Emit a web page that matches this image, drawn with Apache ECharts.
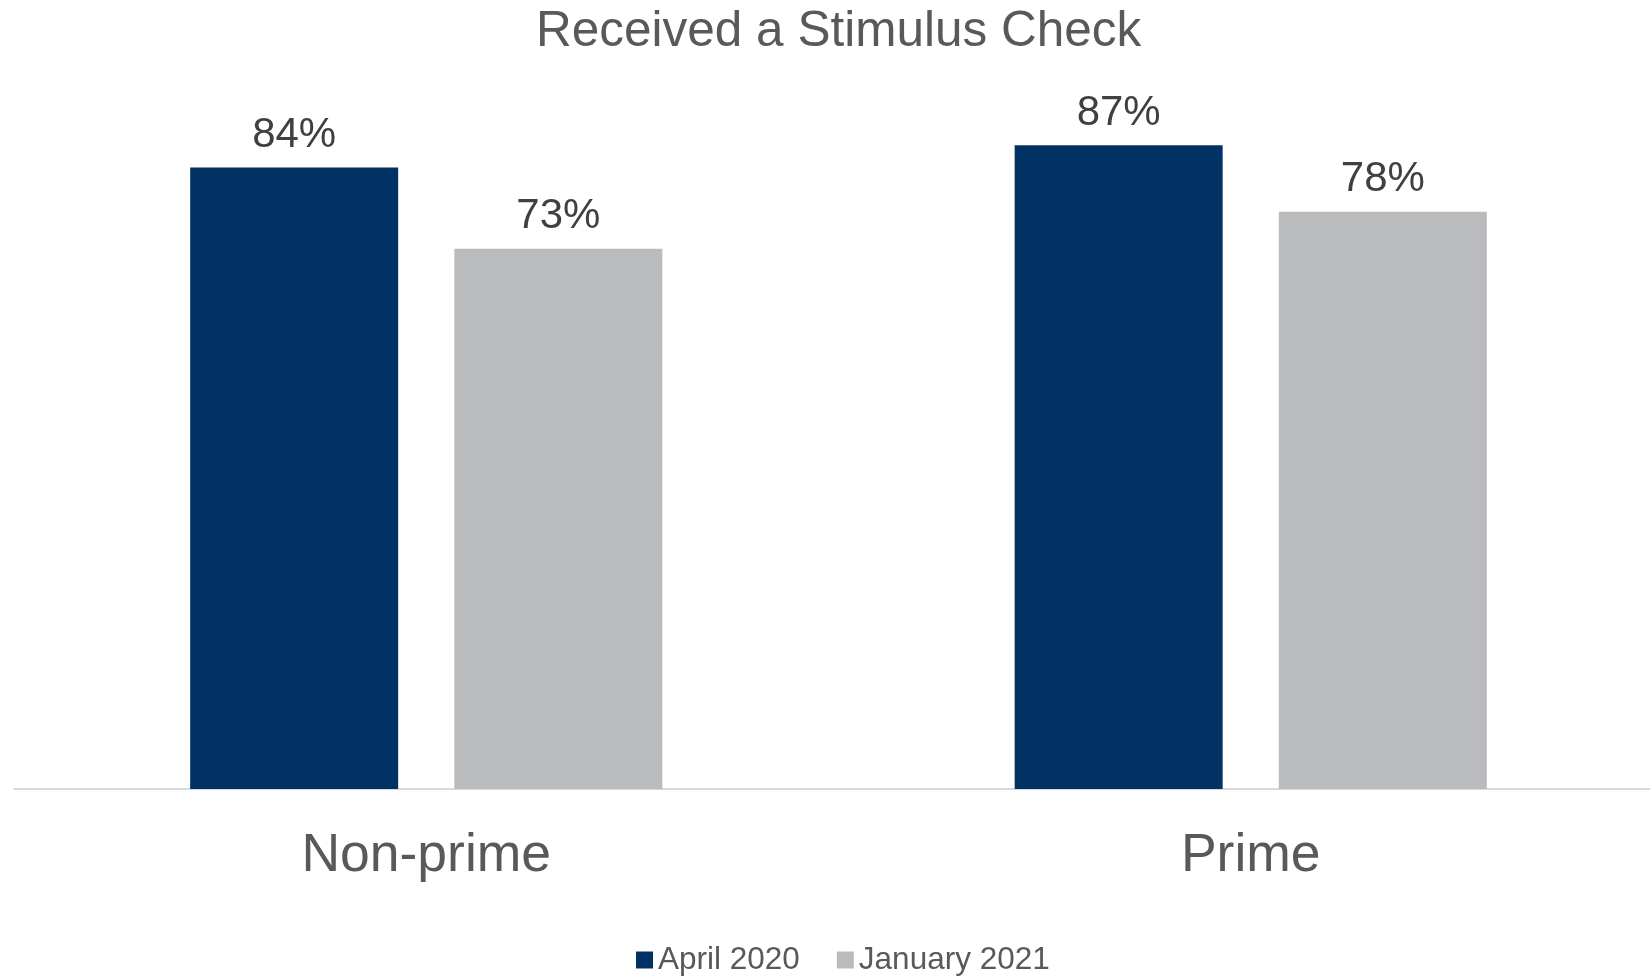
<!DOCTYPE html>
<html>
<head>
<meta charset="utf-8">
<script src="https://cdn.jsdelivr.net/npm/echarts@6/dist/echarts.min.js"></script>
<style>
html,body{margin:0;padding:0;background:#fff;}
#chart{width:1650px;height:977px;}
</style>
</head>
<body>
<div id="chart"></div>
<script>
const categories = ["Non-prime", "Prime"];
const seriesNames = ["April 2020", "January 2021"];
const april2020 = [84, 87];
const january2021 = [73, 78];
const titleText = "Received a Stimulus Check";

const chart = echarts.init(document.getElementById('chart'), null, {renderer: 'canvas'});
const font = "Liberation Sans, Arial, sans-serif";
const labelCfg = {
  show: true,
  position: 'top',
  distance: 11,
  formatter: p => p.value + '%',
  color: '#404040',
  fontSize: 42,
  fontFamily: font
};
chart.setOption({
  animation: false,
  backgroundColor: '#fff',
  title: {
    text: titleText,
    left: 531,
    top: 2,
    textStyle: {color: '#595959', fontSize: 49.5, fontWeight: 'normal', fontFamily: font}
  },
  legend: {
    data: seriesNames,
    left: 631,
    top: 939,
    itemWidth: 17,
    itemHeight: 17,
    itemGap: 37,
    icon: 'rect',
    textStyle: {color: '#595959', fontSize: 31.5, fontFamily: font}
  },
  grid: {left: 14, right: -13, top: 49, height: 740, containLabel: false, outerBoundsMode: 'none'},
  xAxis: {
    type: 'category',
    data: categories,
    axisLine: {show: true, lineStyle: {color: '#D9D9D9', width: 2}},
    axisTick: {show: false},
    axisLabel: {color: '#595959', fontSize: 53.5, fontFamily: font, margin: 40}
  },
  yAxis: {
    type: 'value',
    min: 0,
    max: 100,
    show: false,
    splitLine: {show: false}
  },
  series: [
    {
      name: seriesNames[0],
      type: 'bar',
      data: april2020,
      barWidth: 208,
      barGap: '27%',
      itemStyle: {color: '#003263'},
      label: labelCfg
    },
    {
      name: seriesNames[1],
      type: 'bar',
      data: january2021,
      barWidth: 208,
      barGap: '27%',
      itemStyle: {color: '#BABBBD'},
      label: labelCfg
    }
  ]
});
</script>
</body>
</html>
